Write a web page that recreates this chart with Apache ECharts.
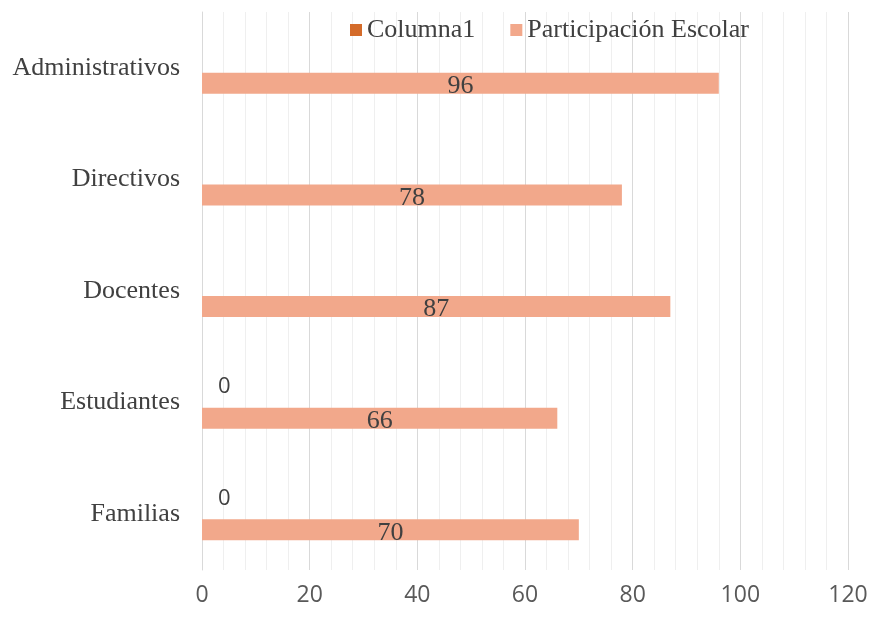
<!DOCTYPE html>
<html>
<head>
<meta charset="utf-8">
<script src="https://cdn.jsdelivr.net/npm/echarts@6/dist/echarts.min.js"></script>
<style>
  html, body { margin: 0; padding: 0; background: #fff; }
  #main { width: 873px; height: 618px; }
</style>
</head>
<body>
<div id="main"></div>
<script>
// categories from bottom to top
var categories = ['Familias', 'Estudiantes', 'Docentes', 'Directivos', 'Administrativos'];
var participacion = [70, 66, 87, 78, 96];
var columna1 = [0, 0, '-', '-', '-'];
var xTicks = [0, 20, 40, 60, 80, 100, 120];

var serifText = { fontFamily: 'Liberation Serif', fontSize: 26, color: '#404040' };

var chart = echarts.init(document.getElementById('main'));
chart.setOption({
  animation: false,
  legend: {
    data: ['Columna1', 'Participación Escolar'],
    top: 12,
    left: 345,
    itemWidth: 12,
    itemHeight: 12,
    itemGap: 35,
    icon: 'rect',
    textStyle: serifText
  },
  grid: { left: 202, right: 25, top: 12, bottom: 48 },
  xAxis: {
    type: 'value',
    min: xTicks[0],
    max: xTicks[xTicks.length - 1],
    interval: 20,
    axisLine: { show: false },
    axisTick: { show: false },
    axisLabel: { fontFamily: 'Open Sans', fontSize: 23, color: '#595959', margin: 14 },
    splitLine: { lineStyle: { color: '#d9d9d9', width: 1 } },
    minorTick: { show: false, splitNumber: 5 },
    minorSplitLine: { show: true, lineStyle: { color: '#efefef', width: 1 } }
  },
  yAxis: {
    type: 'category',
    data: categories,
    axisLine: { lineStyle: { color: '#d9d9d9' } },
    axisTick: { length: 12, lineStyle: { color: '#d9d9d9' } },
    axisLabel: serifText
  },
  series: [
    {
      name: 'Columna1',
      type: 'bar',
      data: columna1,
      barWidth: 21,
      barGap: '48%',
      itemStyle: { color: '#D46B2A' },
      label: {
        show: true,
        position: 'right',
        distance: 16,
        fontFamily: 'Open Sans',
        fontSize: 22,
        color: '#404040'
      }
    },
    {
      name: 'Participación Escolar',
      type: 'bar',
      data: participacion,
      barWidth: 21,
      barGap: '48%',
      itemStyle: { color: '#F2A88B' },
      label: {
        show: true,
        position: 'inside',
        offset: [0, 3],
        fontFamily: 'Liberation Serif',
        fontSize: 26,
        color: '#404040'
      }
    }
  ]
});
chart.setOption({ yAxis: { axisLabel: { margin: 22 } } });
</script>
</body>
</html>
